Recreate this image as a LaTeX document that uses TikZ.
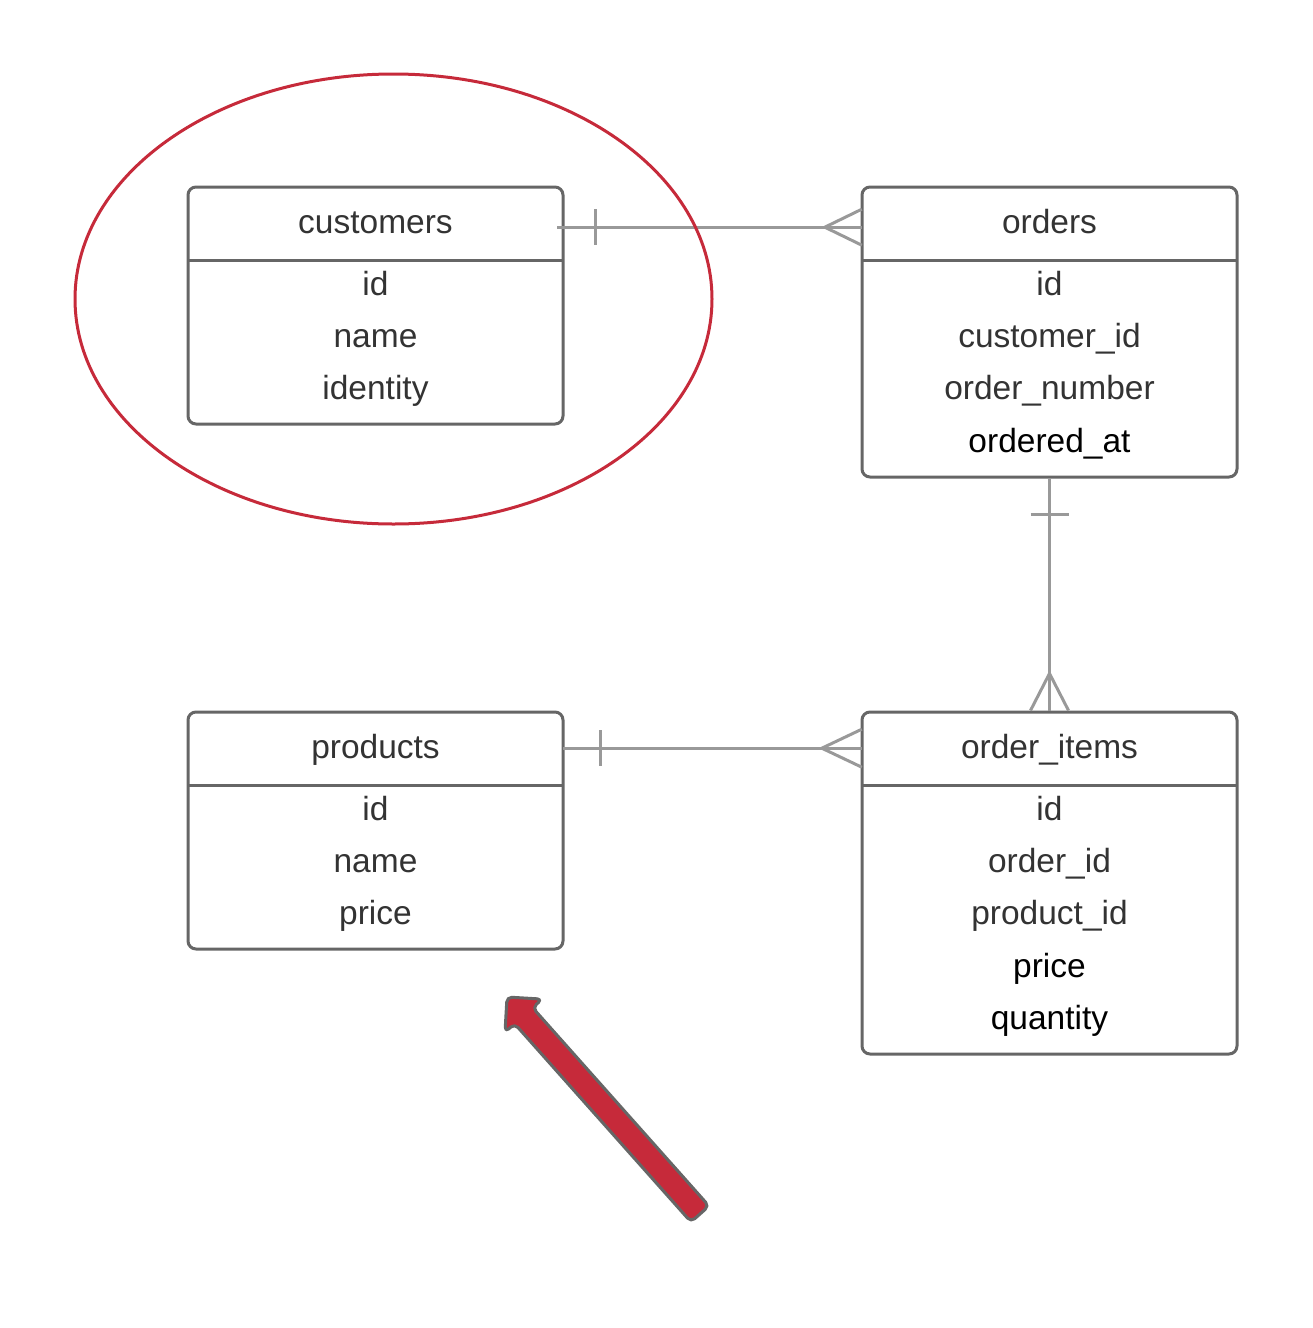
\documentclass[tikz,border=0pt]{standalone}
\usepackage{fontspec}
\setmainfont{Liberation Sans}
\usetikzlibrary{positioning}

\definecolor{boxgray}{HTML}{666666}
\definecolor{linkgray}{HTML}{999999}
\definecolor{txtgray}{HTML}{333333}
\definecolor{markred}{HTML}{C62A3A}

\begin{document}
\begin{tikzpicture}[x=1pt,y=-1pt,line join=round]
\tikzset{TableStyle/.style = {draw=boxgray,line width=3pt,rounded corners=8pt,
                              minimum width=375pt,inner sep=0pt},
         HeadStyle/.style  = {minimum width=375pt,minimum height=75pt,inner sep=0pt},
         FieldStyle/.style = {anchor=base,text=txtgray,inner sep=0pt,
                              font=\fontsize{33.5}{40}\selectfont},
         LinkStyle/.style  = {draw=linkgray,line width=3pt}}
\useasboundingbox (0,0) rectangle (1313,1328);
% tables
\node[TableStyle,minimum height=237pt] (cust) at (375.5,305.5) {};
\node[HeadStyle,anchor=north] (cust-h) at (cust.north) {};
\draw[boxgray,line width=3pt] (cust-h.south west) -- (cust-h.south east);
\node[FieldStyle] (cust-t) at (375.5,233) {customers};
\foreach \f [count=\i] in {id,name,identity}
  \node[FieldStyle] (cust-\i) at (375.5,243+52*\i) {\f};

\node[TableStyle,minimum height=290pt] (ord) at (1049.5,332) {};
\node[HeadStyle,anchor=north] (ord-h) at (ord.north) {};
\draw[boxgray,line width=3pt] (ord-h.south west) -- (ord-h.south east);
\node[FieldStyle] (ord-t) at (1049.5,233) {orders};
\foreach \f [count=\i] in {id,customer\_id,order\_number,\color{black}ordered\_at}
  \node[FieldStyle] (ord-\i) at (1049.5,243+52.3*\i) {\f};

\node[TableStyle,minimum height=237pt] (prod) at (375.5,830.5) {};
\node[HeadStyle,anchor=north] (prod-h) at (prod.north) {};
\draw[boxgray,line width=3pt] (prod-h.south west) -- (prod-h.south east);
\node[FieldStyle] (prod-t) at (375.5,758) {products};
\foreach \f [count=\i] in {id,name,price}
  \node[FieldStyle] (prod-\i) at (375.5,768+52*\i) {\f};

\node[TableStyle,minimum height=342pt] (item) at (1049.5,883) {};
\node[HeadStyle,anchor=north] (item-h) at (item.north) {};
\draw[boxgray,line width=3pt] (item-h.south west) -- (item-h.south east);
\node[FieldStyle] (item-t) at (1049.5,758) {order\_items};
\foreach \f [count=\i] in {id,order\_id,product\_id,\color{black}price,\color{black}quantity}
  \node[FieldStyle] (item-\i) at (1049.5,768+52.3*\i) {\f};

% relations
\coordinate (c-out) at ([xshift=-6pt,yshift=-4pt]cust-h.east);
\coordinate (o-in) at ([yshift=-4pt]ord-h.west);
\draw[LinkStyle] (c-out) -- (o-in);
\draw[LinkStyle] ([xshift=38pt]c-out) ++(0,-18) -- ++(0,36);
\draw[LinkStyle] (o-in) ++(0,-18) -- ++(-37,18) -- ++(37,18);

\draw[LinkStyle] (ord.south) -- (item.north);
\draw[LinkStyle] ([yshift=-36pt]ord.south) ++(-19,0) -- ++(38,0);
\draw[LinkStyle] (item.north) ++(-19,0) -- ++(19,-37) -- ++(19,37);

\draw[LinkStyle] (prod-h.east) -- (item-h.west);
\draw[LinkStyle] ([xshift=37pt]prod-h.east) ++(0,-18) -- ++(0,36);
\draw[LinkStyle] (item-h.west) ++(0,-19) -- ++(-40,19) -- ++(40,19);

% red marks
\draw[markred,line width=3pt] (393.5,299) ellipse [x radius=318.5pt,y radius=225pt];
\draw[draw=boxgray,fill=markred,line width=3pt,rounded corners=5pt]
  (709.0,1206.0) -- (532.6,1007.7) -- (542.3,999.1) -- (507,997)
  -- (505.0,1032.3) -- (514.6,1023.7) -- (691.0,1222.0) -- cycle;
\end{tikzpicture}
\end{document}
